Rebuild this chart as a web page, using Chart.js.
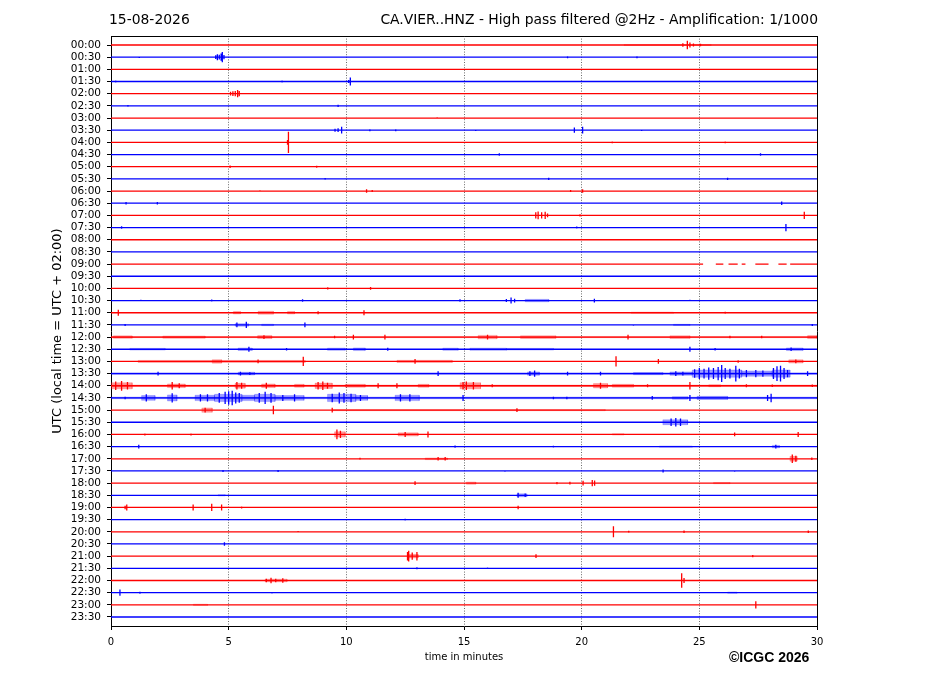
<!DOCTYPE html>
<html>
<head>
<meta charset="utf-8">
<script src="https://cdn.jsdelivr.net/npm/chart.js@4.4.1/dist/chart.umd.min.js"></script>
<style>
  body { margin: 0; background: #fff; }
  #wrap { position: relative; width: 927px; height: 696px; font-family: 'DejaVu Sans', sans-serif; }
  .txt { position: absolute; white-space: nowrap; color: #000; }
</style>
</head>
<body>
<div id="wrap">
  <canvas id="myChart" width="927" height="696"></canvas>
  <div class="txt" style="left:109px; top:11px; font-size:13.9px;">15-08-2026</div>
  <div class="txt" style="right:109px; top:11px; font-size:13.9px;">CA.VIER..HNZ - High pass filtered @2Hz - Amplification: 1/1000</div>
  <div class="txt" style="left:729px; top:649px; font-size:14px; font-weight:bold; font-family:'Liberation Sans', Arial, sans-serif;">©ICGC 2026</div>
</div>
<script>
// one trace every half hour, 30 minutes long
const rowLabels = ['00:00','00:30','01:00','01:30','02:00','02:30','03:00','03:30','04:00','04:30',
  '05:00','05:30','06:00','06:30','07:00','07:30','08:00','08:30','09:00','09:30',
  '10:00','10:30','11:00','11:30','12:00','12:30','13:00','13:30','14:00','14:30',
  '15:00','15:30','16:00','16:30','17:00','17:30','18:00','18:30','19:00','19:30',
  '20:00','20:30','21:00','21:30','22:00','22:30','23:00','23:30'];
const traceColors = ['#ff0000', '#0000ff'];
const noiseColors = ['rgba(255,0,0,0.38)', 'rgba(0,0,255,0.38)'];
const xTicks = [0, 5, 10, 15, 20, 25, 30];

// single wiggles: [row, minute, half amplitude in rows]
const spikes = [
  [0,22.0,0.06],[0,24.3,0.15],[0,24.49,0.35],[0,24.6,0.2],[0,24.75,0.12],[0,25.05,0.1],
  [1,1.2,0.06],[1,4.45,0.15],[1,4.52,0.25],[1,4.6,0.2],[1,4.68,0.3],[1,4.73,0.42],[1,4.8,0.18],[1,19.4,0.08],[1,22.35,0.08],
  [3,0.2,0.08],[3,7.27,0.08],[3,10.1,0.12],[3,10.17,0.33],
  [4,5.08,0.15],[4,5.18,0.2],[4,5.28,0.22],[4,5.38,0.3],[4,5.45,0.22],
  [5,0.72,0.08],[5,9.65,0.1],
  [6,13.86,0.06],
  [7,9.52,0.12],[7,9.65,0.15],[7,9.8,0.28],[7,11.0,0.08],[7,12.1,0.08],[7,15.5,0.06],[7,19.69,0.22],[7,20.04,0.28],[7,22.55,0.06],
  [8,7.5,0.2],[8,7.54,0.88],[8,21.3,0.08],[8,26.1,0.08],
  [9,16.5,0.1],[9,27.6,0.1],
  [10,5.06,0.1],[10,8.74,0.08],
  [11,9.1,0.08],[11,18.6,0.1],[11,26.2,0.1],
  [12,6.33,0.06],[12,10.86,0.15],[12,11.1,0.08],[12,19.53,0.08],[12,20.04,0.15],
  [13,0.64,0.1],[13,1.97,0.1],[13,28.5,0.15],
  [14,17.24,0.06],[14,18.05,0.25],[14,18.15,0.32],[14,18.3,0.25],[14,18.45,0.3],[14,18.55,0.15],[14,19.93,0.1],[14,29.46,0.3],
  [15,0.45,0.1],[15,19.79,0.08],[15,28.68,0.3],
  [20,9.21,0.1],[20,11.03,0.12],
  [21,1.27,0.06],[21,4.28,0.08],[21,8.14,0.1],[21,14.83,0.1],[21,16.8,0.12],[21,17.0,0.25],[21,17.15,0.15],[21,20.54,0.15],[21,24.6,0.06],
  [22,0.31,0.25],[22,8.8,0.12],[22,10.75,0.2],[22,26.1,0.08],
  [23,0.6,0.08],[23,5.35,0.2],[23,5.75,0.25],[23,8.24,0.2],[23,22.2,0.06],[23,29.8,0.08],
  [24,6.5,0.15],[24,9.5,0.1],[24,10.3,0.2],[24,11.64,0.2],[24,16.0,0.2],[24,21.97,0.2],[24,26.3,0.1],[24,27.65,0.1],
  [25,5.86,0.2],[25,7.46,0.1],[25,11.76,0.12],[25,24.6,0.2],[25,25.67,0.1],[25,28.9,0.15],
  [26,6.25,0.15],[26,8.17,0.38],[26,12.92,0.2],[26,21.46,0.42],[26,23.26,0.2],[26,26.65,0.1],[26,29.1,0.15],
  [27,2.0,0.15],[27,5.5,0.15],[27,5.9,0.12],[27,13.9,0.2],[27,17.8,0.2],[27,18.0,0.25],[27,19.4,0.15],[27,20.8,0.15],
  [27,24.0,0.2],[27,24.3,0.15],[27,24.8,0.35],[27,25.0,0.45],[27,25.2,0.4],[27,25.4,0.5],[27,25.6,0.45],[27,25.8,0.55],
  [27,25.95,0.7],[27,26.1,0.45],[27,26.3,0.4],[27,26.55,0.65],[27,26.7,0.4],[27,27.0,0.3],[27,27.4,0.3],[27,27.7,0.25],
  [27,28.15,0.45],[27,28.3,0.6],[27,28.45,0.65],[27,28.6,0.45],[27,28.75,0.3],[27,29.6,0.2],
  [28,0.2,0.35],[28,0.45,0.4],[28,0.7,0.3],[28,2.6,0.3],[28,2.9,0.2],[28,5.35,0.3],[28,5.55,0.25],[28,6.6,0.25],
  [28,8.8,0.3],[28,9.0,0.35],[28,9.2,0.25],[28,11.35,0.2],[28,12.15,0.2],[28,14.96,0.3],[28,15.1,0.35],[28,15.4,0.3],
  [28,16.2,0.12],[28,20.8,0.25],[28,22.8,0.12],[28,24.6,0.3],[28,27.0,0.12],[28,28.1,0.1],[28,29.8,0.1],
  [29,0.6,0.1],[29,1.5,0.3],[29,2.6,0.38],[29,3.8,0.3],[29,4.1,0.3],[29,4.6,0.4],[29,4.85,0.5],[29,5.0,0.55],
  [29,5.15,0.6],[29,5.3,0.45],[29,5.45,0.4],[29,6.3,0.4],[29,6.55,0.5],[29,6.8,0.4],[29,7.3,0.25],[29,7.8,0.3],
  [29,9.4,0.35],[29,9.7,0.45],[29,9.9,0.4],[29,10.2,0.35],[29,10.6,0.25],[29,12.3,0.3],[29,12.7,0.3],[29,14.96,0.25],
  [29,18.8,0.1],[29,19.37,0.1],[29,23.0,0.15],[29,24.6,0.25],[29,27.9,0.25],[29,28.05,0.35],
  [30,4.0,0.2],[30,6.9,0.35],[30,9.4,0.2],[30,17.25,0.15],
  [31,23.8,0.3],[31,24.0,0.35],[31,24.2,0.3],
  [32,1.44,0.08],[32,3.4,0.08],[32,9.6,0.4],[32,9.75,0.3],[32,12.5,0.2],[32,13.47,0.25],[32,26.5,0.15],[32,29.2,0.2],
  [33,1.18,0.15],[33,1.56,0.06],[33,3.57,0.06],[33,4.5,0.06],[33,14.62,0.1],[33,18.8,0.08],[33,28.25,0.15],
  [34,10.58,0.08],[34,13.9,0.15],[34,14.2,0.15],[34,28.95,0.35],[34,29.1,0.25],[34,29.78,0.1],
  [35,4.76,0.08],[35,7.1,0.08],[35,16.74,0.06],[35,23.46,0.12],[35,26.5,0.06],
  [36,5.13,0.06],[36,9.48,0.06],[36,12.92,0.15],[36,18.95,0.1],[36,19.5,0.12],[36,20.06,0.2],[36,20.45,0.25],[36,20.55,0.22],
  [37,17.3,0.2],[37,17.6,0.15],
  [38,0.6,0.15],[38,0.67,0.25],[38,3.49,0.25],[38,4.28,0.3],[38,4.7,0.25],[38,5.55,0.08],[38,17.3,0.15],
  [39,12.5,0.08],
  [40,7.95,0.06],[40,21.35,0.45],[40,22.0,0.08],[40,24.35,0.1],[40,29.63,0.1],
  [41,4.82,0.15],
  [42,12.6,0.35],[42,12.65,0.45],[42,12.8,0.3],[42,13.0,0.35],[42,18.06,0.15],[42,27.27,0.1],
  [43,13.0,0.08],[43,16.0,0.06],
  [44,6.6,0.15],[44,6.8,0.22],[44,7.0,0.15],[44,7.3,0.18],[44,24.25,0.6],[44,24.35,0.2],
  [45,0.38,0.25],[45,1.23,0.08],[45,6.84,0.06],
  [46,27.4,0.3]
];

// noisy stretches: [row, from minute, to minute, half amplitude in rows]
const bursts = [
  [0,21.8,25.5,0.04],
  [21,17.6,18.6,0.1],
  [22,5.2,5.5,0.1],[22,6.25,6.9,0.12],[22,7.5,7.8,0.1],[22,22.1,23.9,0.05],
  [23,5.27,5.85,0.1],[23,6.4,6.9,0.06],[23,23.9,24.6,0.05],
  [24,0,30,0.05],[24,0.1,0.9,0.1],[24,2.2,4.0,0.09],[24,6.23,6.83,0.12],[24,15.6,16.4,0.14],[24,17.4,18.9,0.11],[24,23.75,24.6,0.11],[24,29.6,30,0.12],
  [25,0.8,2.3,0.07],[25,5.4,6.0,0.1],[25,9.2,9.95,0.09],[25,10.3,10.8,0.11],[25,14.1,14.75,0.09],[25,15.25,16.8,0.09],[25,16.8,18.8,0.07],[25,28.7,29.4,0.11],
  [26,1.15,8.25,0.08],[26,4.3,4.7,0.14],[26,12.15,14.5,0.09],[26,28.8,29.4,0.13],
  [27,0,30,0.06],[27,5.4,6.1,0.11],[27,17.7,18.2,0.14],[27,22.2,23.45,0.09],[27,23.75,24.7,0.14],[27,24.7,26.8,0.3],[27,26.8,28.1,0.22],[27,28.1,28.85,0.3],
  [28,0,30,0.06],[28,0,0.9,0.25],[28,2.4,3.15,0.15],[28,5.27,5.7,0.2],[28,6.4,6.97,0.15],[28,7.8,8.2,0.12],[28,8.67,9.4,0.22],[28,9.95,10.8,0.12],
  [28,13.05,13.5,0.12],[28,14.83,15.7,0.25],[28,20.5,21.1,0.18],[28,21.3,22.2,0.12],[28,25.4,25.9,0.08],
  [29,0,30,0.07],[29,1.3,1.87,0.2],[29,2.4,2.8,0.25],[29,3.57,4.4,0.22],[29,4.4,5.56,0.3],[29,5.56,6.1,0.22],[29,6.1,6.97,0.3],[29,6.97,8.2,0.2],
  [29,9.2,10.4,0.3],[29,10.4,10.9,0.2],[29,12.07,13.1,0.22],[29,23.85,24.5,0.1],[29,24.9,26.2,0.13],
  [30,3.86,4.3,0.18],[30,9.4,21.0,0.05],
  [31,23.45,24.5,0.2],
  [32,9.5,9.95,0.22],[32,12.2,13.05,0.13],[32,21.3,21.8,0.05],
  [33,23.3,24.7,0.05],[33,28.1,28.4,0.1],
  [34,13.35,14.3,0.07],[34,28.85,29.15,0.2],
  [36,15.1,15.5,0.09],[36,25.6,26.3,0.05],
  [37,4.55,4.85,0.05],[37,17.25,17.67,0.12],
  [42,12.6,13.05,0.15],
  [44,6.55,7.48,0.11],
  [45,26.2,26.6,0.05],
  [46,3.5,4.1,0.05]
];

// missing data: [row, from minute, to minute]
const gaps = [
  [18,25.16,25.7],[18,26.02,26.24],[18,26.63,26.8],[18,26.96,27.38],[18,27.94,28.36],[18,28.71,28.86]
];

Chart.defaults.font.family = "'DejaVu Sans', sans-serif";

function traceData(r) {
    var evs = spikes.filter(s => s[0] === r).map(s => ({ t: s[1], a: s[2] }));
    var gs = gaps.filter(g => g[0] === r).map(g => ({ t: g[1], t1: g[2] }));
    var all = evs.concat(gs).sort((p, q) => p.t - q.t);
    var pts = [{ x: 0, y: r }];
    all.forEach(e => {
        if (e.t1 !== undefined) {
            pts.push({ x: e.t, y: r }, { x: e.t, y: null }, { x: e.t1, y: r });
        } else {
            pts.push({ x: e.t, y: r }, { x: e.t, y: r - e.a }, { x: e.t, y: r + e.a }, { x: e.t, y: r });
        }
    });
    pts.push({ x: 30, y: r });
    return pts;
}

var datasets = [];
rowLabels.forEach((lab, r) => {
    datasets.push({
        label: lab,
        data: traceData(r),
        borderColor: traceColors[r % 2],
        borderWidth: 1.3,
        pointRadius: 0,
        spanGaps: false,
        fill: false,
        order: 0
    });
});
bursts.forEach(b => {
    var r = b[0], a = b[3];
    datasets.push({
        label: rowLabels[r] + ' noise',
        data: [{ x: b[1], y: r - a }, { x: b[2], y: r - a }, { x: b[2], y: r + a }, { x: b[1], y: r + a }, { x: b[1], y: r - a }],
        borderColor: noiseColors[r % 2],
        backgroundColor: noiseColors[r % 2],
        borderWidth: 0.5,
        pointRadius: 0,
        fill: 'shape',
        order: 1
    });
});

var ctx = document.getElementById('myChart').getContext('2d');
var chart = new Chart(ctx, {
    type: 'line',
    data: { datasets: datasets },
    options: {
        responsive: false,
        animation: false,
        events: [],
        layout: { padding: { left: 46, right: 110, top: 36, bottom: 33 } },
        plugins: {
            legend: { display: false },
            tooltip: { enabled: false }
        },
        elements: { line: { tension: 0 } },
        scales: {
            x: {
                type: 'linear',
                min: 0,
                max: 30,
                afterBuildTicks: s => { s.ticks = xTicks.map(v => ({ value: v })) },
                ticks: { color: '#000', font: { size: 10 }, padding: 6, maxRotation: 0 },
                grid: {
                    color: c => (c.tick && c.tick.value > 0 && c.tick.value < 30) ? '#444' : 'rgba(0,0,0,0)',
                    lineWidth: 0.8,
                    tickColor: '#000',
                    tickLength: 4,
                    tickWidth: 1
                },
                border: { color: '#000', width: 1, dash: [1, 1.6] },
                title: { display: true, text: 'time in minutes', color: '#000', font: { size: 10 }, padding: 0 },
                afterFit: s => { s.height = 37 }
            },
            xTop: {
                type: 'linear',
                position: 'top',
                min: 0,
                max: 30,
                ticks: { display: false },
                grid: { display: false, drawTicks: false },
                border: { color: '#000', width: 1 },
                afterFit: s => { s.height = 0 }
            },
            y: {
                type: 'linear',
                min: -0.74,
                max: 47.74,
                reverse: true,
                afterBuildTicks: s => { s.ticks = rowLabels.map((l, i) => ({ value: i })) },
                ticks: {
                    autoSkip: false,
                    color: '#000',
                    font: { size: 10.5 },
                    padding: 6,
                    callback: v => rowLabels[Math.round(v)]
                },
                grid: { drawOnChartArea: false, tickLength: 4, tickColor: '#000', tickWidth: 1 },
                border: { color: '#000', width: 1 },
                title: { display: true, text: 'UTC (local time = UTC + 02:00)', color: '#000', font: { size: 13 }, padding: 4 },
                afterFit: s => { s.width = 65 }
            },
            yRight: {
                type: 'linear',
                position: 'right',
                min: -0.74,
                max: 47.74,
                ticks: { display: false },
                grid: { display: false, drawTicks: false },
                border: { color: '#000', width: 1 },
                afterFit: s => { s.width = 0 }
            }
        }
    }
});
</script>
</body>
</html>
